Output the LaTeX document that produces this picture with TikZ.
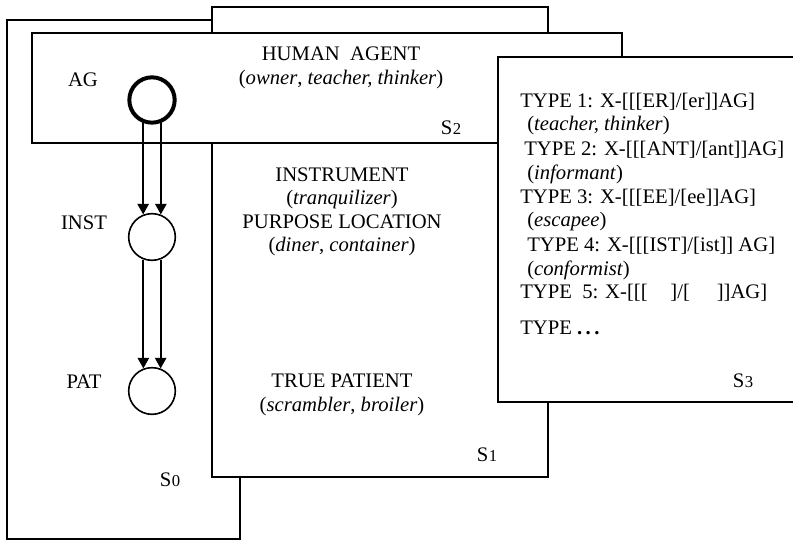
\documentclass[tikz,border=0pt]{standalone}
\usepackage{fontspec}
\setmainfont{Liberation Serif}
\usetikzlibrary{arrows.meta,fit}
\tikzset{
  panel/.style={draw=black,fill=white,line width=1.3pt,inner sep=0pt},
  role node/.style={circle,draw=black,fill=white,line width=1.2pt,
    minimum size=35pt,inner sep=0pt},
  agent node/.style={role node,line width=3pt,minimum size=34pt},
  link arrow/.style={-{Triangle[length=8pt,width=8.5pt]},line width=1.4pt},
  caption/.style={align=center,inner sep=0pt,
    font=\fontsize{15.5}{17.5}\selectfont},
  type line/.style={anchor=west,inner sep=0pt,
    font=\fontsize{15.5}{17.5}\selectfont},
  box label/.style={inner sep=0pt,font=\fontsize{15.5}{17.5}\selectfont}
}
\newcommand{\sname}[1]{S\kern0.3pt{\fontsize{12.5}{12}\selectfont #1}}

\begin{document}
\begin{tikzpicture}[x=0.75pt,y=-0.75pt]
    \useasboundingbox (0,0) rectangle (793,541);
    \clip (0,0) rectangle (793,541);
    % stacked sheets, back to front
    \node[panel,fit={(7,20) (240,539)}] (s0) {};
    \node[panel,fit={(212,7) (548,477)}] (s1) {};
    \node[panel,fit={(32,33) (622,143)}] (s2) {};
    \node[panel,fit={(498,57) (830,402)}] (s3) {};

    \node[box label] (s0lab) at (170,480) {\sname{0}};
    \node[box label] (s1lab) at (487,455) {\sname{1}};
    \node[box label] (s2lab) at (451,128) {\sname{2}};
    \node[box label] (s3lab) at (743,381) {\sname{3}};

    \node[caption] (agent) at (341,68)
      {HUMAN\ \ AGENT\\(\textit{owner}, \textit{teacher, thinker})};
    \node[caption] (instr) at (342,212)
      {INSTRUMENT\\(\textit{tranquilizer})\\PURPOSE LOCATION\\(\textit{diner}, \textit{container})};
    \node[caption] (patient) at (342,395)
      {TRUE PATIENT\\(\textit{scrambler}, \textit{broiler})};

    \node[type line] (t1) at (520,102) {TYPE 1: X-[[[ER]/[er]]AG]};
    \node[type line] (e1) at (527,126) {(\textit{teacher, thinker})};
    \node[type line] (t2) at (524,150) {TYPE 2: X-[[[ANT]/[ant]]AG]};
    \node[type line] (e2) at (527,174) {(\textit{informant})};
    \node[type line] (t3) at (520,198) {TYPE 3: X-[[[EE]/[ee]]AG]};
    \node[type line] (e3) at (527,222) {(\textit{escapee})};
    \node[type line] (t4) at (527,246) {TYPE 4: X-[[[IST]/[ist]] AG]};
    \node[type line] (e4) at (527,270) {(\textit{conformist})};
    \node[type line] (t5) at (520,293)
      {TYPE\ \ 5: X-[[[\hspace{1.1em}]/[\hspace{1.3em}]]AG]};
    \node[type line] (t6) at (520,328) {TYPE {\bfseries .\,.\,.}};

    % role chain
    \node[box label] (aglab) at (83,80) {AG};
    \node[box label] (instlab) at (84,223) {INST};
    \node[box label] (patlab) at (84,382) {PAT};
    \node[agent node] (ag) at (152,100) {};
    \node[role node] (inst) at (152,237) {};
    \node[role node] (pat) at (152,391) {};

    \draw[link arrow] (ag.249) -- (ag.249 |- inst.111);
    \draw[link arrow] (ag.291) -- (ag.291 |- inst.69);
    \draw[link arrow] (inst.249) -- (inst.249 |- pat.111);
    \draw[link arrow] (inst.291) -- (inst.291 |- pat.69);
  \end{tikzpicture}
\end{document}
